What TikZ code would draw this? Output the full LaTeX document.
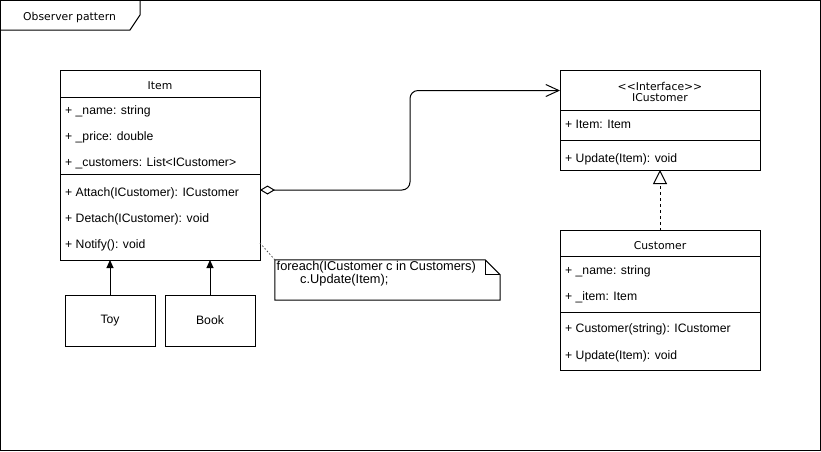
\documentclass[tikz,border=0pt]{standalone}
\usepackage{fontspec}
\setmainfont{Liberation Sans}
\newfontfamily\titlefont{DejaVu Sans}
\usetikzlibrary{arrows.meta,calc}
\tikzset{
  box/.style={draw, line width=1pt, fill=white, inner sep=0pt, outer sep=0pt},
  sepline/.style={line width=1pt},
  attr/.style={anchor=base west, inner sep=0pt, font=\fontsize{12.2}{14}\selectfont},
  ttl/.style={anchor=base, inner sep=0pt, font=\titlefont\fontsize{10.8}{12}\selectfont},
  conn/.style={line width=1pt},
}
\begin{document}
\begin{tikzpicture}[x=1pt,y=-1pt]
\useasboundingbox (0,0) rectangle (821,451);
% frame
\draw[line width=1pt] (0.5,0.5) rectangle (820,450);
\draw[line width=1pt] (0.5,30) -- (130,30) -- (140,15) -- (140,0.5);
\node[ttl, anchor=base west] (frametitle) at (23,20.5) {Observer pattern};

% Item class
\node[box, minimum width=200pt, minimum height=190pt] (item) at (160,165) {};
\draw[sepline] (60,97) -- (260,97);
\draw[sepline] (60,174) -- (260,174);
\node[ttl] (itemt) at (160,89) {Item};
\node[attr] (ia1) at (65,114.5) {+ \_name: string};
\node[attr] (ia2) at (65,140.5) {+ \_price: double};
\node[attr] (ia3) at (65,166.5) {+ \_customers: List<ICustomer>};
\node[attr] (im1) at (65,196.5) {+ Attach(ICustomer): ICustomer};
\node[attr] (im2) at (65,222.5) {+ Detach(ICustomer): void};
\node[attr] (im3) at (65,248.5) {+ Notify(): void};

% ICustomer interface
\node[box, minimum width=200pt, minimum height=100pt] (icust) at (660,120) {};
\draw[sepline] (560,110.5) -- (760,110.5);
\draw[sepline] (560,140) -- (760,140);
\node[ttl] (icst) at (660,90) {<<Interface>>};
\node[ttl] (icname) at (660,101.5) {ICustomer};
\node[attr] (ica1) at (565,128.5) {+ Item: Item};
\node[attr] (icm1) at (565,162.5) {+ Update(Item): void};

% Customer class
\node[box, minimum width=200pt, minimum height=140pt] (cust) at (660,300.5) {};
\draw[sepline] (560,256) -- (760,256);
\draw[sepline] (560,312) -- (760,312);
\node[ttl] (custt) at (660,249) {Customer};
\node[attr] (ca1) at (565,274.5) {+ \_name: string};
\node[attr] (ca2) at (565,300.5) {+ \_item: Item};
\node[attr] (cm1) at (565,332.5) {+ Customer(string): ICustomer};
\node[attr] (cm2) at (565,359) {+ Update(Item): void};

% Toy and Book
\node[box, minimum width=90pt, minimum height=51pt, font=\fontsize{12.2}{14}\selectfont] (toy) at (110,320.5) {Toy};
\node[box, minimum width=90pt, minimum height=51pt, font=\fontsize{12.2}{14}\selectfont] (book) at (210,320.5) {Book};

% note
\node[inner sep=0pt, minimum width=225pt, minimum height=40pt] (note) at (387.5,280) {};
\draw[line width=1pt] (note.north west) -- ($(note.north east)+(-15,0)$) -- ($(note.north east)+(0,15)$) -- (note.south east) -- (note.south west) -- cycle;
\draw[line width=1pt] ($(note.north east)+(-15,0)$) -- ($(note.north east)+(-15,15)$) -- ($(note.north east)+(0,15)$);
\node[anchor=base west, inner sep=0pt, align=left, font=\fontsize{12.8}{10.5}\selectfont] (nt) at (276.5,283) {foreach(ICustomer c in Customers)\\\hspace*{23.5pt}c.Update(Item);};

% connectors
\draw[conn, -{Triangle[length=8pt,width=7pt]}] (toy.north) -- (toy.north |- item.south);
\draw[conn, -{Triangle[length=8pt,width=7pt]}] (book.north) -- (book.north |- item.south);
\draw[conn, rounded corners=8pt, {Diamond[open,fill=white,length=15pt,width=9pt,line width=1pt]}-{Straight Barb[length=13pt,width=12pt,line width=1pt]}]
  ($(item.north east)+(0,120)$) -- (410,190) -- (410,90.5) -- ($(icust.north west)+(0,20.5)$);
\draw[conn, dashed, dash pattern=on 3pt off 3pt, -{Triangle[open,fill=white,length=14pt,width=14pt,line width=1pt]}] (cust.north) -- (icust.south);
\draw[line width=0.8pt, dash pattern=on 1.5pt off 2pt, black!70] ($(item.south east)+(0,-17)$) -- (note.north west);
\end{tikzpicture}
\end{document}
